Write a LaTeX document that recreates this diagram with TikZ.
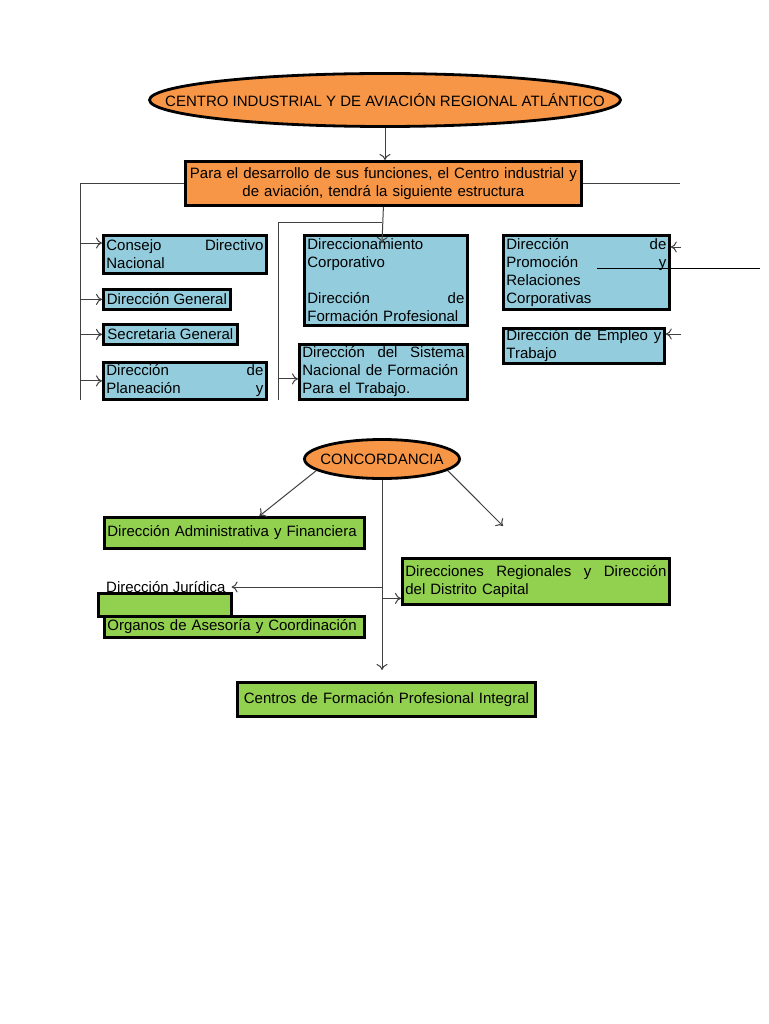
\documentclass[tikz,border=0pt]{standalone}
\usepackage{fontspec}
\setmainfont{Liberation Sans}
\usetikzlibrary{shapes.geometric,arrows.meta}
\begin{document}
\begin{tikzpicture}[x=1pt,y=-1pt,font=\fontsize{15}{18}\selectfont,
  caja/.style={draw=black,line width=2.8pt,inner xsep=3pt,inner ysep=0pt,anchor=north west,align=left},
  celeste/.style={caja,fill=azulcaja},
  verde/.style={caja,fill=verdecaja},
  naranja/.style={caja,fill=naranjacaja,align=center},
  ovalo/.style={ellipse,draw=black,line width=2.8pt,fill=naranjacaja,inner sep=0pt},
  flecha/.style={-{To[length=6pt,width=11pt]},draw=black!75,line width=1pt},
  linea/.style={draw=black!75,line width=1pt}]
\definecolor{naranjacaja}{HTML}{F79646}
\definecolor{azulcaja}{HTML}{93CDDD}
\definecolor{verdecaja}{HTML}{92D050}
\fill[white] (0,0) rectangle (768,1024);
\useasboundingbox (0,0) rectangle (768,1024);
% estructura
\node[ovalo,minimum width=471pt,minimum height=53pt,
  label={center:CENTRO INDUSTRIAL Y DE AVIACIÓN REGIONAL ATLÁNTICO}] (centro) at (385,100) {};
\node[naranja,text width=390pt,minimum height=44pt] (estructura) at (184,160)
  {Para el desarrollo de sus funciones, el Centro industrial y\\de aviación, tendrá la siguiente estructura};
\node[celeste,text width=157pt,minimum height=38pt] (consejo) at (102,234) {Consejo\hfill Directivo\\Nacional};
\node[celeste,minimum width=127pt,minimum height=20pt] (dirgeneral) at (102,288) {Dirección General};
\node[celeste,minimum width=134pt,minimum height=20pt] (secretaria) at (102,323) {Secretaria General};
\node[celeste,text width=157pt,minimum height=37pt] (planeacion) at (102,361) {Dirección\hfill de\\Planeación\hfill y};
\node[celeste,text width=157pt,minimum height=90pt] (direccionamiento) at (303,234)
  {Direccionamiento\\Corporativo\\[18pt]Dirección\hfill de\\Formación Profesional};
\node[celeste,text width=162pt,minimum height=55pt] (sistema) at (298,343)
  {Dirección\hfill del\hfill Sistema\\Nacional de Formación\\Para el Trabajo.};
\node[celeste,text width=160pt,minimum height=74pt] (promocion) at (502,234)
  {Dirección\hfill de\\Promoción\hfill y\\Relaciones\\Corporativas};
\node[celeste,text width=155pt,minimum height=35pt] (empleo) at (502,327)
  {Dirección\hfill de\hfill Empleo\hfill y\\Trabajo};
% concordancia
\node[ovalo,minimum width=155pt,minimum height=39pt,label={center:CONCORDANCIA}] (concordancia) at (382,459) {};
\node[verde,text width=254pt,minimum height=31pt] (admin) at (103,516) {Dirección Administrativa y Financiera};
\node[verde,text width=261pt,minimum height=46pt] (regionales) at (401,557)
  {Direcciones\hfill Regionales\hfill y\hfill Dirección\\del Distrito Capital};
\node[anchor=west,inner xsep=6pt,inner ysep=0pt] (juridica) at (100,587) {Dirección Jurídica};
\node[verde,text width=254pt,minimum height=21pt] (organos) at (103,615) {Organos de Asesoría y Coordinación};
\node[verde,minimum width=133pt,minimum height=23pt] (vacio) at (97,592) {};
\node[verde,text width=292pt,minimum height=34pt,align=center] (centros) at (236,681)
  {Centros de Formación Profesional Integral};
% conectores de arriba
\coordinate (izq) at (80,400);
\coordinate (der) at (680,185);
\coordinate (punta) at (382,243);
\coordinate (rama) at (382,223);
\coordinate (medio) at (278,400);
\coordinate (derA) at (681,247);
\coordinate (derB) at (681,334);
\coordinate (sueltoA) at (597,268);
\coordinate (sueltoB) at (760,268);
\coordinate (consejoE) at ([yshift=-9pt]consejo.north west);
\coordinate (sistemaE) at ([yshift=-7pt]sistema.west);
\draw[flecha] (centro.south) -- (centro.south |- estructura.north);
\draw[linea] (estructura.west) -| (izq);
\draw[linea] (estructura.east) -- (estructura.east -| der);
\draw[flecha] (izq |- consejoE) -- (consejoE);
\foreach \caja in {dirgeneral,secretaria,planeacion}
  \draw[flecha] (izq |- \caja.west) -- (\caja.west);
\draw[flecha] (estructura.south) -- (punta);
\draw[linea] (rama) -| (medio);
\draw[flecha] (medio |- sistemaE) -- (sistemaE);
\draw[flecha] (derA) -- (derA -| promocion.east);
\draw[flecha] (derB) -- (derB -| empleo.east);
\draw[draw=black,line width=1pt] (sueltoA) -- (sueltoB);
% conectores de abajo
\coordinate (libre) at (503,526);
\coordinate (regionalesE) at ([yshift=-17pt]regionales.west);
\draw[flecha] (concordancia.190) -- ([xshift=25pt]admin.north);
\draw[flecha] (concordancia.350) -- (libre);
\draw[flecha,shorten >=11pt] (concordancia.south) -- (concordancia.south |- centros.north);
\draw[flecha] (concordancia.south |- juridica.east) -- (juridica.east);
\draw[flecha] (concordancia.south |- regionalesE) -- (regionalesE);
\end{tikzpicture}
\end{document}
